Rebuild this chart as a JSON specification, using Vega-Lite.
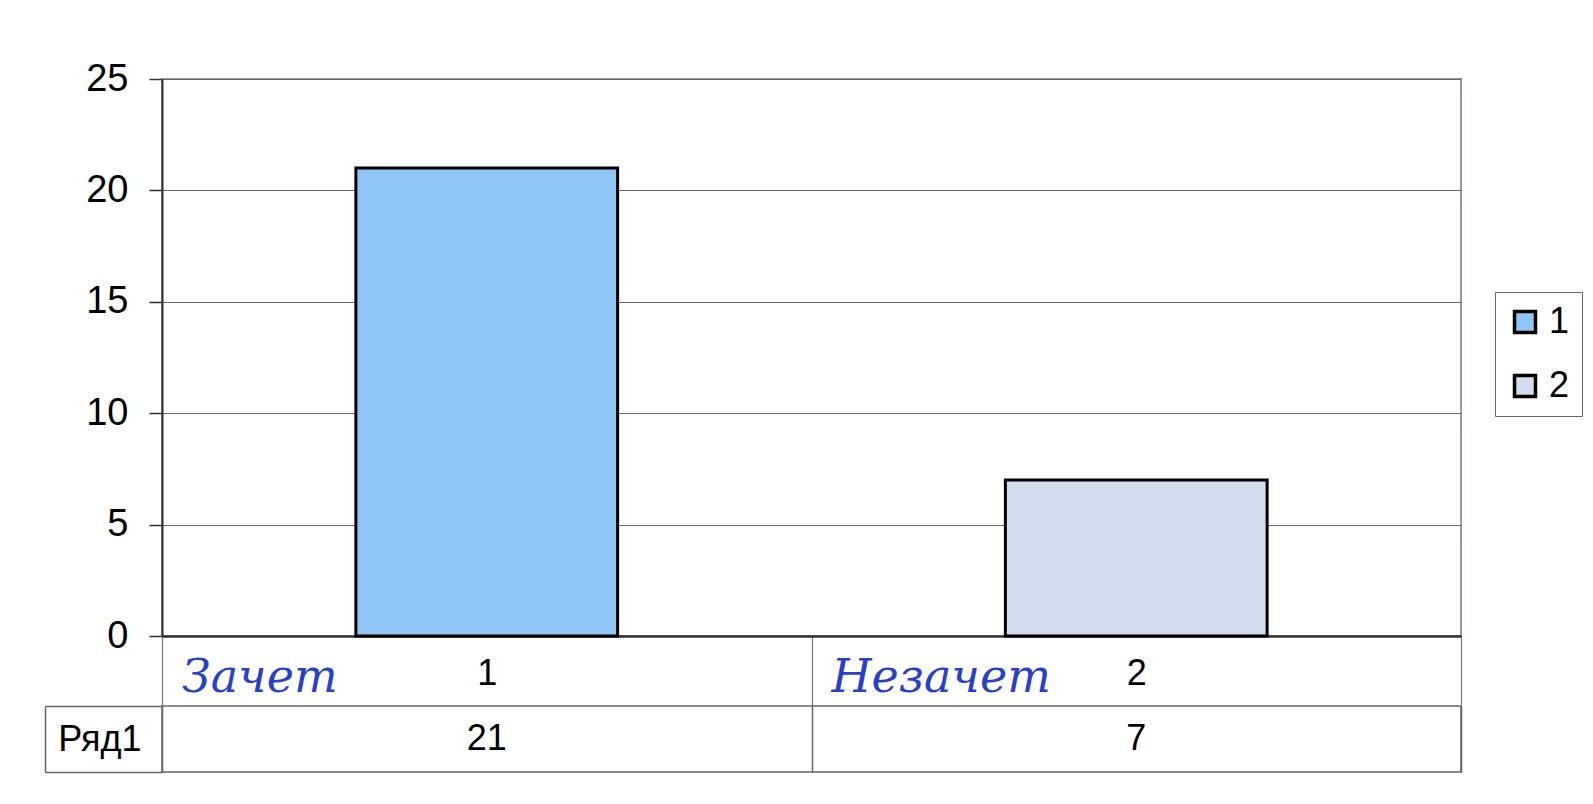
{
  "$schema": "https://vega.github.io/schema/vega-lite/v6.json",
  "background": "white",
  "padding": {"left": 43, "top": 59, "right": 10, "bottom": 10},
  "datasets": {
    "bars": [
      {"cat": "1", "value": 21, "note": "Зачет"},
      {"cat": "2", "value": 7, "note": "Незачет"}
    ]
  },
  "spacing": 70,
  "bounds": "flush",
  "vconcat": [
    {
      "width": 1299,
      "height": 557,
      "data": {"name": "bars"},
      "view": {"stroke": "#8f9bb3", "strokeWidth": 2},
      "layer": [
        {
          "mark": {"type": "bar", "width": {"band": 0.403}, "stroke": "black", "strokeWidth": 3},
          "encoding": {
            "x": {
              "field": "cat", "type": "nominal",
              "scale": {"type": "band", "paddingInner": 0, "paddingOuter": 0},
              "axis": {
                "title": null, "orient": "bottom", "tickBand": "extent", "tickSize": 70,
                "tickColor": "#777", "tickWidth": 1.2, "domainColor": "#333", "domainWidth": 2.5,
                "labelAngle": 0, "labelFontSize": 36, "labelColor": "black",
                "labelPadding": -33, "labelBaseline": "middle", "grid": false
              }
            },
            "y": {
              "field": "value", "type": "quantitative",
              "scale": {"domain": [0, 25], "nice": false},
              "axis": {
                "title": null, "values": [0, 5, 10, 15, 20, 25], "tickSize": 13,
                "tickColor": "#333", "tickWidth": 1.5, "domainColor": "#333", "domainWidth": 2,
                "gridColor": "#666", "gridWidth": 1.2, "labelFontSize": 38,
                "labelPadding": 21, "labelColor": "black"
              }
            },
            "color": {
              "field": "cat", "type": "nominal",
              "scale": {"range": ["#8fc6f5", "#d3ddee"]},
              "legend": {
                "title": null, "orient": "none", "legendX": 1333, "legendY": 213,
                "symbolType": "square", "symbolSize": 440, "symbolStrokeColor": "black",
                "symbolStrokeWidth": 3.5, "labelFontSize": 36, "labelColor": "black",
                "strokeColor": "#666", "fillColor": "white", "padding": 12,
                "rowPadding": 28, "labelOffset": 6
              }
            }
          }
        },
        {
          "mark": {
            "type": "text", "align": "left", "baseline": "middle", "dx": 20, "dy": 42,
            "font": "DejaVu Serif", "fontStyle": "italic", "fontSize": 46, "color": "#2a3fc8"
          },
          "encoding": {
            "x": {"field": "cat", "type": "nominal", "bandPosition": 0},
            "y": {"datum": 0, "type": "quantitative"},
            "text": {"field": "note"}
          }
        }
      ]
    },
    {
      "width": 1299,
      "height": 66,
      "data": {"name": "bars"},
      "view": {"stroke": "#666", "strokeWidth": 1.5},
      "mark": {"type": "text", "fontSize": 36, "color": "black", "baseline": "middle"},
      "encoding": {
        "x": {
          "field": "cat", "type": "nominal",
          "scale": {"type": "band", "paddingInner": 0, "paddingOuter": 0},
          "axis": {
            "title": null, "labels": false, "ticks": false, "domain": false,
            "grid": true, "tickBand": "extent", "gridColor": "#666", "gridWidth": 1.5
          }
        },
        "y": {
          "datum": "Ряд1", "type": "nominal",
          "scale": {"type": "band", "paddingInner": 0, "paddingOuter": 0},
          "axis": {
            "title": null, "offset": 117, "tickSize": -117, "tickBand": "extent",
            "tickColor": "#666", "tickWidth": 1.5, "domainColor": "#666", "domainWidth": 1.5,
            "labelFontSize": 36, "labelColor": "black", "labelPadding": 21,
            "labelAlign": "right", "grid": false
          }
        },
        "text": {"field": "value", "type": "quantitative"}
      }
    }
  ],
  "config": {"font": "Liberation Sans"}
}
